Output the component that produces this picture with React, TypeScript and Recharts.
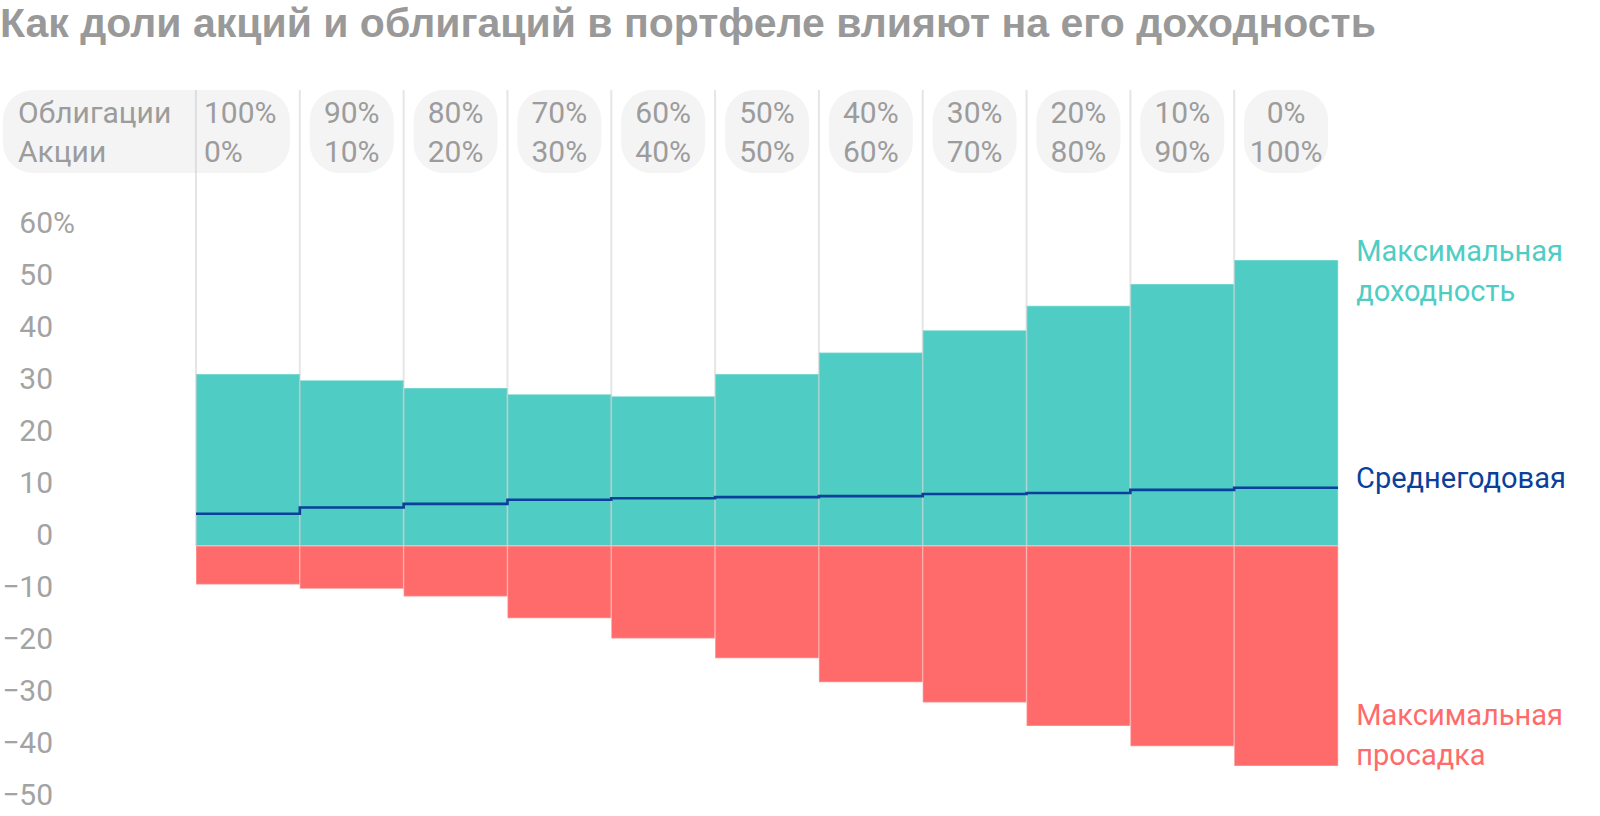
import React from "react";
import {
  ComposedChart,
  Bar,
  Line,
  XAxis,
  YAxis,
  ReferenceLine,
  LabelList,
} from "recharts";

const bonds = ["100%", "90%", "80%", "70%", "60%", "50%", "40%", "30%", "20%", "10%", "0%"];
const stocks = ["0%", "10%", "20%", "30%", "40%", "50%", "60%", "70%", "80%", "90%", "100%"];
const maxReturn = [33.1, 31.9, 30.4, 29.2, 28.8, 33.1, 37.2, 41.5, 46.2, 50.4, 55.0];
const avgReturn = [6.2, 7.4, 8.1, 8.9, 9.2, 9.4, 9.6, 10.0, 10.2, 10.8, 11.2];
const maxDrawdown = [-7.4, -8.2, -9.7, -13.9, -17.8, -21.6, -26.2, -30.1, -34.6, -38.5, -42.3];
const yTicks = [-50, -40, -30, -20, -10, 0, 10, 20, 30, 40, 50, 60];

const TEAL = "#4fcdc4";
const RED = "#ff6b6b";
const BLUE = "#0b3f99";
const GRAY = "#9c9c9c";
const GRID = "rgba(190,190,190,0.4)";
const FONT = "Roboto, 'Noto Sans', sans-serif";
const Y_TOP = 87.7; // room above the 60% line for the header pills

const data = bonds.map((b, i) => ({
  name: `${b}/${stocks[i]}`,
  bond: b,
  stock: stocks[i],
  max: maxReturn[i],
  drawdown: maxDrawdown[i],
}));

// step line runs across each whole column, so it gets its own numeric x
const avgSteps = [
  ...avgReturn.map((v, i) => ({ pos: i, avg: v })),
  { pos: avgReturn.length, avg: avgReturn[avgReturn.length - 1] },
];
const last = data.length - 1;

function HeaderTick(props: any) {
  const { x, payload } = props;
  const index = data.findIndex((d) => d.name === payload.value);
  const d = data[index];
  if (!d) return null;
  const top = 90;
  const textStyle = { fontFamily: FONT, fontSize: 30, fill: GRAY };
  if (index === 0) {
    return (
      <g>
        <rect x={3} y={top} width={x + 42 - 3} height={83} rx={30} fill="#f4f4f4" />
        <line x1={x - 52} x2={x - 52} y1={top} y2={top + 83} stroke={GRID} strokeWidth={2} />
        <text x={18} y={top + 33} style={textStyle}>Облигации</text>
        <text x={18} y={top + 72} style={textStyle}>Акции</text>
        <text x={x - 44} y={top + 33} style={textStyle}>{d.bond}</text>
        <text x={x - 44} y={top + 72} style={textStyle}>{d.stock}</text>
      </g>
    );
  }
  return (
    <g>
      <rect x={x - 42} y={top} width={84} height={83} rx={30} fill="#f4f4f4" />
      <text x={x} y={top + 33} textAnchor="middle" style={textStyle}>{d.bond}</text>
      <text x={x} y={top + 72} textAnchor="middle" style={textStyle}>{d.stock}</text>
    </g>
  );
}

function YTick(props: any) {
  const { y, payload } = props;
  const v = payload.value;
  const label = v < 0 ? `\u2212${Math.abs(v)}` : `${v}`;
  return (
    <g>
      <text x={53} y={y - 1} textAnchor="end" fontFamily={FONT} fontSize={30} fill="#a3a3a3">
        {label}
      </text>
      {v === 60 && (
        <text x={53} y={y - 1} fontFamily={FONT} fontSize={30} fill="#a3a3a3">%</text>
      )}
    </g>
  );
}

function MaxLabel(props: any) {
  const { x, y, width, index } = props;
  if (index !== last) return null;
  return (
    <text x={x + width + 18} y={y + 1} fontFamily={FONT} fontSize={29} fill={TEAL}>
      <tspan x={x + width + 18}>Максимальная</tspan>
      <tspan x={x + width + 18} dy={40}>доходность</tspan>
    </text>
  );
}

function DrawdownLabel(props: any) {
  const { x, y, width, height, index } = props;
  if (index !== last) return null;
  const bottom = Math.max(y, y + height);
  return (
    <text x={x + width + 18} y={bottom - 41} fontFamily={FONT} fontSize={29} fill={RED}>
      <tspan x={x + width + 18}>Максимальная</tspan>
      <tspan x={x + width + 18} dy={40}>просадка</tspan>
    </text>
  );
}

function AvgLabel(props: any) {
  const { x, y, index } = props;
  if (index !== avgSteps.length - 1) return null;
  return (
    <text x={x + 18} y={y} fontFamily={FONT} fontSize={29} fill={BLUE}>
      Среднегодовая
    </text>
  );
}

export default function App() {
  return (
    <div
      style={{
        position: "absolute",
        left: 0,
        top: 0,
        width: 1600,
        height: 816,
        background: "#fff",
        overflow: "hidden",
      }}
    >
      <div
        style={{
          position: "absolute",
          left: 0,
          top: 0,
          fontFamily: "'Liberation Sans', Arial, sans-serif",
          fontWeight: 700,
          fontSize: 41,
          lineHeight: "46px",
          color: "#999999",
          whiteSpace: "nowrap",
        }}
      >
        Как доли акций и облигаций в портфеле влияют на его доходность
      </div>
      <ComposedChart
        width={1600}
        height={816}
        data={data}
        margin={{ top: 89, right: 262, bottom: 10, left: 46 }}
        barCategoryGap={0}
        barGap={0}
        stackOffset="sign"
      >
        <XAxis
          xAxisId="cat"
          dataKey="name"
          orientation="top"
          height={1}
          axisLine={false}
          tickLine={false}
          interval={0}
          tick={<HeaderTick />}
        />
        <XAxis xAxisId="num" type="number" dataKey="pos" domain={[0, 11]} hide />
        <YAxis
          type="number"
          domain={[-50, Y_TOP]}
          ticks={yTicks}
          width={150}
          axisLine={false}
          tickLine={false}
          tick={<YTick />}
          allowDataOverflow
        />
        {bonds.map((_, i) => (
          <ReferenceLine
            key={`grid-${i}`}
            xAxisId="num"
            segment={[
              { x: i, y: 0 },
              { x: i, y: Y_TOP },
            ]}
            stroke={GRID}
            strokeWidth={2}
          />
        ))}
        <Bar
          xAxisId="cat"
          dataKey="max"
          stackId="s"
          fill={TEAL}
          stroke="rgba(255,255,255,0.3)"
          strokeWidth={1.5}
          isAnimationActive={false}
        >
          <LabelList dataKey="max" content={<MaxLabel />} />
        </Bar>
        <Bar
          xAxisId="cat"
          dataKey="drawdown"
          stackId="s"
          fill={RED}
          stroke="rgba(255,255,255,0.3)"
          strokeWidth={1.5}
          isAnimationActive={false}
        >
          <LabelList dataKey="drawdown" content={<DrawdownLabel />} />
        </Bar>
        <Line
          xAxisId="num"
          data={avgSteps}
          dataKey="avg"
          type="stepAfter"
          stroke={BLUE}
          strokeWidth={2.6}
          dot={false}
          isAnimationActive={false}
        >
          <LabelList dataKey="avg" content={<AvgLabel />} />
        </Line>
      </ComposedChart>
    </div>
  );
}
